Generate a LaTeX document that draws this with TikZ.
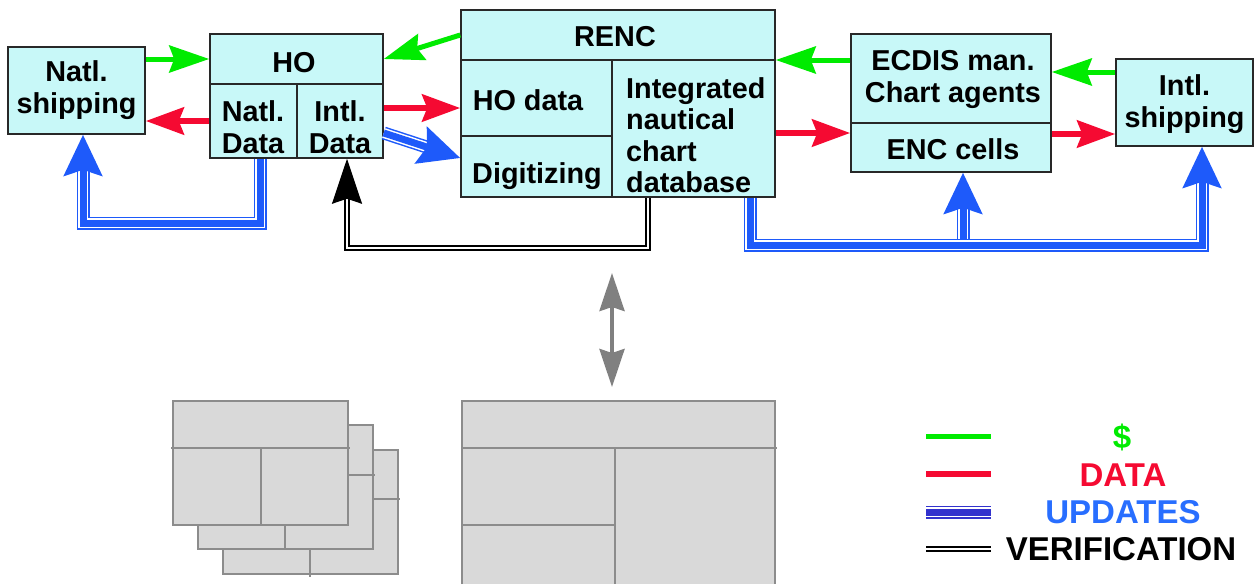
\documentclass[tikz,border=0pt]{standalone}
\usepackage{fontspec}
\setmainfont{Liberation Sans}
\usetikzlibrary{arrows.meta}
\definecolor{cfill}{RGB}{200,248,248}
\definecolor{gfill}{RGB}{217,217,217}
\definecolor{gline}{RGB}{140,140,140}
\definecolor{cgreen}{RGB}{0,235,0}
\definecolor{cred}{RGB}{245,10,50}
\definecolor{cblue}{RGB}{30,90,250}
\definecolor{navy}{RGB}{50,50,205}
\definecolor{tblue}{RGB}{40,110,255}
\definecolor{bline}{RGB}{40,40,40}
\definecolor{carrow}{RGB}{128,128,128}
\begin{document}
\begin{tikzpicture}[x=1pt,y=-1pt,
  cell/.style={draw=bline, line width=1.5pt, fill=cfill, rectangle, inner sep=0pt},
  lbl/.style={inner sep=0pt, font=\bfseries\fontsize{28.8}{32}\selectfont, align=center},
  lgt/.style={inner sep=0pt, font=\bfseries\fontsize{33}{36}\selectfont},
  money/.style={draw=cgreen, line width=5pt, -{Stealth[length=40pt,width=27pt,inset=5pt]}},
  data/.style={draw=cred, line width=6.5pt, -{Stealth[length=38pt,width=27pt,inset=5pt]}},
  updline/.style={draw=#1, line width=7pt,
    preaction={draw=#1, line width=1.5pt, double=white, double distance=10pt, -, shorten >=0pt}},
  upd/.style={draw=cblue, line width=7pt,
    preaction={draw=cblue, line width=1.5pt, double=white, double distance=10pt, -, shorten >=36pt},
    -{Stealth[length=41pt,width=38pt,inset=6pt]}},
  verif/.style={draw=black, line width=1.6pt, double=white, double distance=2.6pt, -{Stealth[length=45pt,width=30pt,inset=5pt]}},
  gar/.style={draw=carrow, line width=4pt, {Stealth[length=38pt,width=25pt,inset=4pt]}-{Stealth[length=38pt,width=25pt,inset=4pt]}},
  gbox/.style={draw=gline, line width=1.5pt, fill=gfill},
  gdiv/.style={draw=gline, line width=1.5pt}
]
\useasboundingbox (0,0) rectangle (1256,584);

% ---- top boxes ----
\node[cell, minimum width=137pt, minimum height=87pt] (ns) at (76.5,90.5) {};
\node[lbl] (nsL) at (76.5,90) {Natl.\\shipping};

\node[cell, minimum width=173pt, minimum height=50pt] (hoT) at (296.5,59) {};
\node[cell, minimum width=87pt, minimum height=74pt] (hoN) at (253.5,121) {};
\node[cell, minimum width=86pt, minimum height=74pt] (hoI) at (340,121) {};
\node[lbl] (hoTL) at (294,63) {HO};
\node[lbl] (hoNL) at (253,127) {Natl.\\Data};
\node[lbl] (hoIL) at (340,127) {Intl.\\Data};

\node[cell, minimum width=314pt, minimum height=50pt] (rencT) at (618,35) {};
\node[cell, minimum width=151pt, minimum height=76pt] (rencH) at (536.5,98) {};
\node[cell, minimum width=151pt, minimum height=61pt] (rencD) at (536.5,166.5) {};
\node[cell, minimum width=163pt, minimum height=137pt] (rencI) at (693.5,128.5) {};
\node[lbl] (rencTL) at (615,37) {RENC};
\node[lbl] (rencHL) at (528,100) {HO data};
\node[lbl] (rencDL) at (537,176) {Digitizing};
\node[lbl, align=left, anchor=north west, font=\bfseries\fontsize{28.8}{31.5}\selectfont] (rencIL) at (626,77) {Integrated\\nautical\\chart\\database};

\node[cell, minimum width=200pt, minimum height=89pt] (ecT) at (951,78.5) {};
\node[cell, minimum width=200pt, minimum height=49pt] (ecE) at (951,147.5) {};
\node[lbl] (ecTL) at (953,79) {ECDIS man.\\Chart agents};
\node[lbl] (ecEL) at (953,149) {ENC cells};

\node[cell, minimum width=137pt, minimum height=87pt] (is) at (1184.5,102.5) {};
\node[lbl] (isL) at (1184.5,104) {Intl.\\shipping};

% ---- money / data arrows ----
\draw[money] (ns.east |- hoT.west) -- (hoT.west);
\draw[data] (hoN.west) -- (ns.east |- hoN.west);
\draw[money] (rencT.west) -- (hoT.east);
\draw[data] (hoI.east |- 0,108) -- (rencH.west |- 0,108);
\draw[money] (ecT.west |- 0,60) -- (rencI.east |- 0,60);
\draw[data] (rencI.east |- 0,133) -- (ecE.west |- 0,133);
\draw[money] (is.west |- 0,72) -- (ecT.east |- 0,72);
\draw[data] (ecE.east |- 0,134) -- (is.west |- 0,134);

% ---- updates ----
\draw[upd] (hoI.east |- 0,133) -- (rencD.west |- 0,158);
\draw[upd] (hoN.south -| 260,0) |- (83,223) -- (ns.south -| 83,0);
\coordinate (j) at (963,245);
\draw[upd] (j) -- (ecE.south -| j);
\draw[upd] (rencI.south -| 750,0) |- (1202,245) -- (is.south -| 1202,0);

% ---- verification ----
\draw[verif] (rencI.south -| 648,0) |- (347,248) -- (hoI.south -| 347,0);

% ---- grey double arrow ----
\coordinate (g1) at (612,273);
\coordinate (g2) at (612,387);
\draw[gar] (g1) -- (g2);

% ---- grey stacked boxes ----
\draw[gbox] (223,450) rectangle (398,574);
\draw[gdiv] (223,499) -- (400,499);
\draw[gdiv] (310,499) -- (310,577);
\draw[gbox] (198,425) rectangle (373,549);
\draw[gdiv] (198,475) -- (375,475);
\draw[gdiv] (285,475) -- (285,549);
\draw[gbox] (173,401) rectangle (348,525);
\draw[gdiv] (171,448) -- (350,448);
\draw[gdiv] (261,448) -- (261,525);

% ---- big grey box ----
\fill[gfill] (462,401) rectangle (775,584);
\draw[gdiv] (462,584) -- (462,401) -- (775,401) -- (775,584);
\draw[gdiv] (462,448) -- (777,448);
\draw[gdiv] (615,448) -- (615,584);
\draw[gdiv] (462,525) -- (615,525);

% ---- legend ----
\coordinate (l1a) at (926,436); \coordinate (l1b) at (991,436);
\coordinate (l2a) at (926,474); \coordinate (l2b) at (991,474);
\coordinate (l3a) at (926,512); \coordinate (l3b) at (991,512);
\coordinate (l4a) at (926,549); \coordinate (l4b) at (991,549);
\draw[money, -] (l1a) -- (l1b);
\draw[data, -] (l2a) -- (l2b);
\draw[updline=navy] (l3a) -- (l3b);
\draw[verif, -] (l4a) -- (l4b);
\node[lgt, text=cgreen] (t1) at (1122,437) {\$};
\node[lgt, text=cred] (t2) at (1123,475) {DATA};
\node[lgt, text=tblue] (t3) at (1123,512) {UPDATES};
\node[lgt, text=black] (t4) at (1121,549) {VERIFICATION};
\end{tikzpicture}
\end{document}
